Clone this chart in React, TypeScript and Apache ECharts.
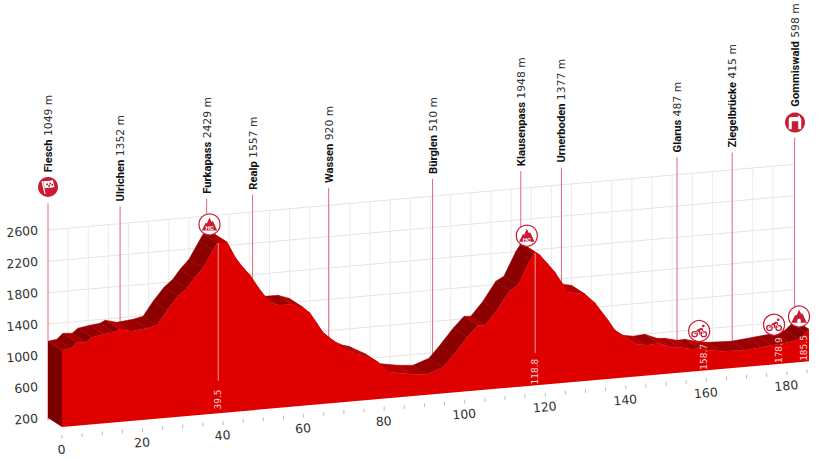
import React, { useEffect, useRef } from "react";
import * as echarts from "echarts";

const profileKm = [0,2.2,3.7,6,7.4,10.4,12.9,14.2,17.1,21.1,23.6,26.1,28.8,31,32.8,35,37.5,38.5,41,43,44.5,46.7,48.7,50.4,52.1,53.9,57.1,59.8,61.6,63.3,64.8,66.6,70.8,73.3,74.7,78.5,81.5,86.9,90.6,94.6,97.1,100.6,103.3,105,108,111.2,113.2,116.2,117.5,118.7,120.7,122.4,124.2,125.7,129.9,132.4,135.6,137.3,139.1,142.8,145.3,148.2,151.2,153.2,156.2,158.2,160.7,163.9,169.6,173.8,176.3,180.5,183,184.8,185.5];
const profileElev = [1180,1195,1265,1255,1312,1337,1351,1384,1344,1365,1391,1573,1739,1831,1951,2068,2287,2372,2373,2173,2063,1926,1764,1640,1543,1510,1509,1458,1374,1238,1116,1031,859,796,777,671,529,480,463,535,676,891,1031,1024,1201,1443,1497,1803,1900,1855,1731,1621,1473,1352,1307,1181,950,813,741,610,586,598,533,524,485,489,453,425,412,431,445,464,492,573,609];

const yTicks = [200,600,1000,1400,1800,2200,2600];
const xLabelKm = [0,20,40,60,80,100,120,140,160,180];
const xTickKm = [0,5,10,15,20,25,30,35,40,45,50,55,60,65,70,75,80,85,90,95,100,105,110,115,120,125,130,135,140,145,150,155,160,165,170,175,180,185];
const gridKm = [5,10,15,20,25,30,35,40,45,50,55,60,65,70,75,80,85,90,95,100,105,110,115,120,125,130,135,140,145,150,155,160,165,170,175,180];

const pinNames = ["Fiesch","Ulrichen","Furkapass","Realp","Wassen","Bürglen","Klausenpass","Urnerboden","Glarus","Ziegelbrücke","Gommiswald"];
const pinAltitudes = ["1049 m","1352 m","2429 m","1557 m","920 m","510 m","1948 m","1377 m","487 m","415 m","598 m"];
const pinKm = [0,17.9,39.4,50.8,69.7,95.5,117.4,127.5,156.2,169.9,185.4];
const pinTop = [2940,2820,2820,2820,2820,2820,2820,2820,2820,2820,2940];

const markLabels = ["39.5","118.8","158.7","178.9","185.5"];
const markKm = [38.8,117.5,159.4,178,184.3];
const markLineFrom = [2372,1890,null,null,null];

const badgeKinds = ["start","hc","hc","bike","bike","summit","finish"];
const badgeKm = [0,40.1,118.9,161.7,180.3,186.5,185.5];
const badgeElev = [3150,2490,1990,579,575,652,3132];

const SLOPE = 0.088;
const DX = 14;
const DY = 9;
const LEFT = 48;
const RED = "#c71c32";
const NUM_FONT = "DejaVu Sans";

const back = (api: any, km: number, el: number) => {
  const p = api.coord([km, el]);
  return [p[0], p[1] - SLOPE * (p[0] - LEFT)];
};
const front = (api: any, km: number, el: number) => {
  const p = back(api, km, el);
  return [p[0] + DX, p[1] + DY];
};

const shade = (rise: number) => {
  if (rise > 0.55) return "#8c0000";
  if (rise > 0.25) return "#960000";
  if (rise > 0.03) return "#9c0000";
  if (rise > -0.08) return "#a80000";
  return "#b40000";
};

const ICONS: Record<string, string> = {
  mountain: "M1 18 L6 9 L7.6 9.8 L11 3 L13.8 8 L15.4 7 L21 18 Z",
  flag: "M4.5 4 L5.8 3.6 L9 18 L7.7 18.3 Z M6.2 4.4 C9 2.5 12 4.4 16.5 2.4 L18.5 10.4 C14.5 12.2 11.5 10.2 8.2 12 Z",
  checks: "M8.7 5.6 L10.9 5.2 L11.4 7.2 L9.2 7.7 Z M13 4.9 L15.2 4.2 L15.7 6.2 L13.5 6.9 Z M11.4 7.2 L13.5 6.9 L14 9 L11.9 9.3 Z M15.7 6.2 L17.6 5.6 L18 7.6 L16.2 8.2 Z",
  arch: "M3 18 L3 6 Q3 3.5 5.5 3.5 L13.5 3.5 L13.5 2 L16 2 L16 3.8 Q17.5 4.4 17.5 6 L17.5 18 L14 18 L14 8.5 L6.5 8.5 L6.5 18 Z",
  bike: "M6 9.5 A3.7 3.7 0 1 0 6 16.9 A3.7 3.7 0 1 0 6 9.5 M6 11 A2.2 2.2 0 1 1 6 15.4 A2.2 2.2 0 1 1 6 11 M16 9.5 A3.7 3.7 0 1 0 16 16.9 A3.7 3.7 0 1 0 16 9.5 M16 11 A2.2 2.2 0 1 1 16 15.4 A2.2 2.2 0 1 1 16 11 M5.5 13 L9 8 L13 5.5 L15 6.5 L15.6 12.8 L14.6 12.8 L14 8 L11.8 8.8 L12.5 11 L11.5 13.6 L10.5 13.4 L11 11.2 L9.6 9.6 L6.4 13.6 Z M15.5 2 A1.5 1.5 0 1 0 15.5 5 A1.5 1.5 0 1 0 15.5 2",
  gate: "M9 18 L9 15 Q11 12.8 13 15 L13 18 Z",
};

const iconEl = (name: string, cx: number, cy: number, w: number, h: number, fill: string) => ({
  type: "path",
  shape: { pathData: ICONS[name], x: cx - w / 2, y: cy - h / 2, width: w, height: h, layout: "cover" },
  style: { fill },
});

const App = () => {
  const ref = useRef<HTMLDivElement>(null);
  useEffect(() => {
    const chart = echarts.init(ref.current!, undefined, { renderer: "svg" });
    const rotation = Math.atan(SLOPE);
    const profile = profileKm.map((k, i) => [k, profileElev[i]]);
    const base = { type: "custom", coordinateSystem: "cartesian2d", silent: true, clip: false, animation: false };
    chart.setOption({
      animation: false,
      backgroundColor: "#ffffff",
      grid: { left: LEFT, top: 230, width: 747, height: 188, containLabel: false },
      xAxis: { type: "value", min: 0, max: 185.5, show: false },
      yAxis: {
        type: "value",
        min: 200,
        max: 2600,
        axisLine: { show: false },
        axisTick: { show: false },
        splitLine: { show: false },
        axisLabel: { customValues: yTicks, formatter: (v: number) => String(v), rotate: 5, margin: 10, padding: [4, 0, 0, 0], fontFamily: NUM_FONT, fontSize: 12.5, color: "#333333", hideOverlap: false },
      },
      series: [
        {
          ...base,
          name: "grid-h",
          data: yTicks.map((t) => [0, t]),
          renderItem: (_p: any, api: any) => {
            const el = api.value(1);
            const a = back(api, 0, el);
            const b = back(api, 185.5, el);
            return { type: "line", shape: { x1: a[0], y1: a[1], x2: b[0], y2: b[1] }, style: { stroke: "#e4e4e4", lineWidth: 1 } };
          },
        },
        {
          ...base,
          name: "grid-v",
          data: gridKm.map((k) => [k, 200]),
          renderItem: (_p: any, api: any) => {
            const km = api.value(0);
            const a = back(api, km, 2600);
            const b = back(api, km, 200);
            return { type: "line", shape: { x1: a[0], y1: a[1], x2: b[0], y2: b[1] }, style: { stroke: "#ebebeb", lineWidth: 1 } };
          },
        },
        {
          ...base,
          name: "pins",
          data: pinKm.map((k, i) => [k, pinTop[i]]),
          renderItem: (p: any, api: any) => {
            const i = p.dataIndex;
            const a = back(api, api.value(0), api.value(1));
            const b = back(api, api.value(0), 170);
            const gap = pinTop[i] > 2900 ? 31 : 5;
            return {
              type: "group",
              children: [
                { type: "line", shape: { x1: a[0], y1: a[1], x2: b[0], y2: b[1] }, style: { stroke: "#de6a7a", lineWidth: 1 } },
                {
                  type: "text",
                  x: a[0] + 0.5,
                  y: a[1] - gap,
                  rotation: Math.PI / 2,
                  style: {
                    text: `{b|${pinNames[i]}} {r|${pinAltitudes[i]}}`,
                    align: "left",
                    verticalAlign: "middle",
                    fill: "#111111",
                    rich: {
                      b: { fontFamily: "Roboto", fontWeight: "bold", fontSize: 11.2, fill: "#111111", color: "#111111" },
                      r: { fontFamily: NUM_FONT, fontSize: 10.8, fill: "#333333", color: "#333333" },
                    },
                  },
                },
              ],
            };
          },
        },
        {
          ...base,
          name: "top-face",
          data: profile,
          renderItem: (p: any, api: any) => {
            const i = p.dataIndex;
            if (i >= profile.length - 1) return null;
            const [k0, e0] = profile[i];
            const [k1, e1] = profile[i + 1];
            const a = front(api, k0, e0);
            const b = front(api, k1, e1);
            const c = back(api, k1, e1);
            const d = back(api, k0, e0);
            const rise = (a[1] - b[1]) / Math.max(b[0] - a[0], 0.1);
            const col = shade(rise);
            return { type: "polygon", shape: { points: [a, b, c, d] }, style: { fill: col, stroke: col, lineWidth: 0.5 } };
          },
        },
        {
          ...base,
          name: "left-face",
          data: [profile[0]],
          renderItem: (_p: any, api: any) => {
            const k = api.value(0);
            const e = api.value(1);
            return {
              type: "polygon",
              shape: { points: [back(api, k, e), front(api, k, e), front(api, k, 200), back(api, k, 200)] },
              style: { fill: "#7d0000" },
            };
          },
        },
        {
          ...base,
          name: "front-face",
          data: [[0, 0]],
          renderItem: (_p: any, api: any) => {
            const pts = profile.map(([k, e]) => front(api, k, e));
            pts.push(front(api, 185.5, 200), front(api, 0, 200));
            return { type: "polygon", shape: { points: pts }, style: { fill: "#df0000" } };
          },
        },
        {
          ...base,
          name: "marks",
          data: markKm.map((k) => [k, 375]),
          renderItem: (p: any, api: any) => {
            const i = p.dataIndex;
            const km = api.value(0);
            const c = front(api, km, api.value(1));
            const children: any[] = [
              {
                type: "text",
                x: c[0],
                y: c[1],
                rotation: Math.PI / 2,
                style: { text: markLabels[i], align: "center", verticalAlign: "middle", fontFamily: NUM_FONT, fontSize: 9, fill: "rgba(255,255,255,0.85)" },
              },
            ];
            const from = markLineFrom[i];
            if (from !== null) {
              const a = front(api, km, from as number);
              const b = front(api, km, 615);
              children.push({ type: "line", shape: { x1: a[0], y1: a[1], x2: b[0], y2: b[1] }, style: { stroke: "rgba(255,255,255,0.6)", lineWidth: 1 } });
            }
            return { type: "group", children };
          },
        },
        {
          ...base,
          name: "ticks",
          data: xTickKm.map((k) => [k, 200]),
          renderItem: (_p: any, api: any) => {
            const c = front(api, api.value(0), 200);
            return { type: "line", shape: { x1: c[0], y1: c[1] + 8, x2: c[0], y2: c[1] + 12 }, style: { stroke: "#bdbdbd", lineWidth: 1 } };
          },
        },
        {
          ...base,
          name: "tick-labels",
          data: xLabelKm.map((k) => [k, 200]),
          renderItem: (_p: any, api: any) => {
            const c = front(api, api.value(0), 200);
            return {
              type: "text",
              x: c[0] - 0.5,
              y: c[1] + 22.5,
              rotation,
              style: { text: String(api.value(0)), align: "center", verticalAlign: "middle", fontFamily: NUM_FONT, fontSize: 12.5, fill: "#333333" },
            };
          },
        },
        {
          ...base,
          name: "badges",
          data: badgeKm.map((k, i) => [k, badgeElev[i]]),
          renderItem: (p: any, api: any) => {
            const kind = badgeKinds[p.dataIndex];
            const c = back(api, api.value(0), api.value(1));
            const cx = c[0];
            const cy = c[1];
            if (kind === "start") {
              return {
                type: "group",
                children: [
                  { type: "circle", shape: { cx, cy, r: 10 }, style: { fill: RED } },
                  iconEl("flag", cx, cy, 13, 14, "#ffffff"),
                  iconEl("checks", cx + 1.6, cy - 2.2, 7, 4.5, RED),
                ],
              };
            }
            if (kind === "finish") {
              return {
                type: "group",
                children: [
                  { type: "circle", shape: { cx, cy, r: 10 }, style: { fill: RED } },
                  iconEl("arch", cx, cy, 12.5, 13.5, "#ffffff"),
                ],
              };
            }
            const children: any[] = [
              { type: "circle", shape: { cx, cy, r: 10.5 }, style: { fill: "#ffffff", stroke: RED, lineWidth: 1.2 } },
            ];
            if (kind === "bike") {
              children.push(iconEl("bike", cx, cy, 16, 12.5, RED));
            } else {
              children.push(iconEl("mountain", cx, cy - 0.3, 15.5, 13, RED));
            }
            if (kind === "hc")
              children.push({
                type: "text",
                x: cx,
                y: cy + 3.4,
                style: { text: "HC", align: "center", verticalAlign: "middle", fontFamily: "Roboto", fontWeight: "bold", fontSize: 6, fill: "#ffffff" },
              });
            if (kind === "summit") children.push(iconEl("gate", cx, cy + 4.2, 3.5, 4, "#ffffff"));
            return { type: "group", children };
          },
        },
      ],
    });
    return () => chart.dispose();
  }, []);
  return <div ref={ref} style={{ position: "fixed", left: 0, top: 0, width: 825, height: 459 }} />;
};

export default App;
